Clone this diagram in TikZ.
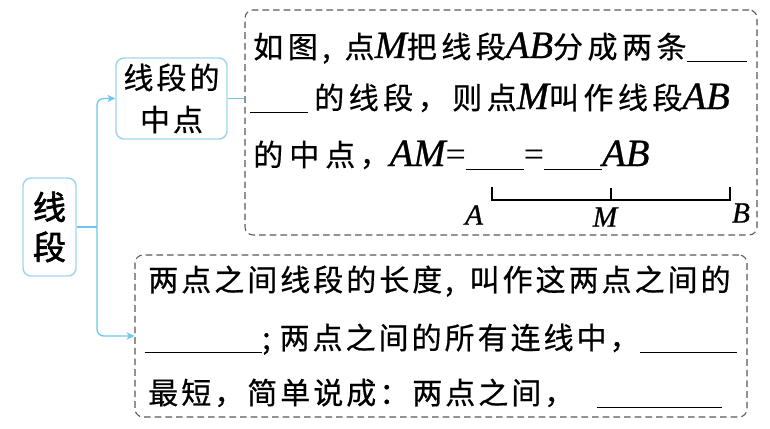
\documentclass[tikz,border=0pt]{standalone}
\usepackage{fontspec}
\usetikzlibrary{arrows.meta}
\newfontfamily\cjkf[LetterSpace=10,FakeBold=0.6]{Noto Sans CJK SC}
\newfontfamily\cjkwf[LetterSpace=15,FakeBold=0.6]{Noto Sans CJK SC}
\newfontfamily\cjkbf[FakeBold=2]{Noto Sans CJK SC}
\newfontfamily\latf{Liberation Serif}
\newfontfamily\latbf[FakeBold=0.8]{Liberation Serif}
\newdimen\pxu \pxu=0.75pt
\newcommand\itv[1]{{\latbf\itshape\fontsize{29pt}{30pt}\selectfont #1}}
\newcommand\upv[1]{{\latf\fontsize{27pt}{30pt}\selectfont #1}}
\newcommand\fillin[1]{\rule[-3pt]{#1\pxu}{0.8pt}}
\definecolor{connc}{HTML}{6EC6EC}
\definecolor{boxc}{HTML}{9ED6EF}
\definecolor{dashc}{HTML}{5A5A5A}
\begin{document}
\begin{tikzpicture}[x=0.75pt,y=-0.75pt,
  conn/.style={draw=connc, line width=1pt},
  tip/.style={-{Stealth[length=6pt,width=5.5pt]}},
  topicbox/.style={draw=boxc, line width=1.1pt, rounded corners=6pt, fill=white, inner sep=0pt, align=center},
  dbox/.style={draw=dashc, dash pattern=on 5pt off 3pt, line width=0.8pt, rounded corners=6pt, inner sep=0pt},
  txt/.style={anchor=base west, inner sep=0pt, font=\cjkf\fontsize{22.5pt}{27pt}\selectfont},
  wtxt/.style={anchor=base west, inner sep=0pt, font=\cjkwf\fontsize{22.5pt}{27pt}\selectfont},
  lab/.style={inner sep=0pt, font=\latbf\itshape\fontsize{22pt}{22pt}\selectfont},
  seg/.style={draw=black, line width=1pt}
]
\fill[white] (0,0) rectangle (770,428);
\useasboundingbox (0,0) rectangle (770,428);

\node[topicbox, minimum width=39.75pt, minimum height=73.5pt, font=\cjkbf\fontsize{24.75pt}{30pt}\selectfont] (topic) at (49.5,227) {线\\段};
\node[topicbox, minimum width=83.25pt, minimum height=60.75pt, font=\cjkf\fontsize{22.5pt}{31.5pt}\selectfont] (sub) at (171.5,98.5) {线段的\\中点};
\node[dbox, minimum width=384pt, minimum height=168.75pt] (box1) at (501,122.5) {};
\node[dbox, minimum width=459pt, minimum height=121.5pt] (box2) at (441,336) {};

\coordinate (trunk) at (97,227);
\draw[conn] (topic.east) -- (trunk);
\draw[conn, rounded corners=5pt, tip] (trunk) |- (sub.west);
\draw[conn, rounded corners=5pt, tip] (trunk) |- (box2.west);
\draw[conn] (sub.east) -- (sub.east -| box1.west);

% box 1 text
\node[wtxt] (l11) at (253,58) {如图,\hspace{14\pxu}点\itv{M}把线段\itv{AB}分成两条\fillin{60}};
\node[wtxt] (l12) at (250,109) {\fillin{58}\hspace{6\pxu}的线段，则点\itv{M}叫作线段\itv{AB}};
\node[wtxt] (l13) at (253,166) {的\hspace{6\pxu}中\hspace{6\pxu}点，\itv{AM}\upv{=}\fillin{58}\upv{=}\fillin{58}\itv{AB}};

% segment figure
\coordinate (sA) at (492,200);
\coordinate (sM) at (611,200);
\coordinate (sB) at (730,200);
\draw[seg] ([yshift=9.75pt]sA) -- (sA) -- (sB) -- ([yshift=9.75pt]sB);
\draw[seg] (sM) -- ([yshift=9pt]sM);
\node[lab] (la) at (474,215) {A};
\node[lab] (lm) at (605,217) {M};
\node[lab] (lb) at (741,213) {B};

% box 2 text
\node[txt] (l21) at (148,291) {两点之间线段的长度,\hspace{16\pxu}叫作这两点之间的};
\node[txt] (l22) at (145,349) {\fillin{117};\hspace{9\pxu}两点之间的所有连线中，\fillin{97}};
\node[txt] (l23) at (148,404) {最短，简单说成：两点之间，\hspace{23\pxu}\fillin{125}};
\end{tikzpicture}
\end{document}
